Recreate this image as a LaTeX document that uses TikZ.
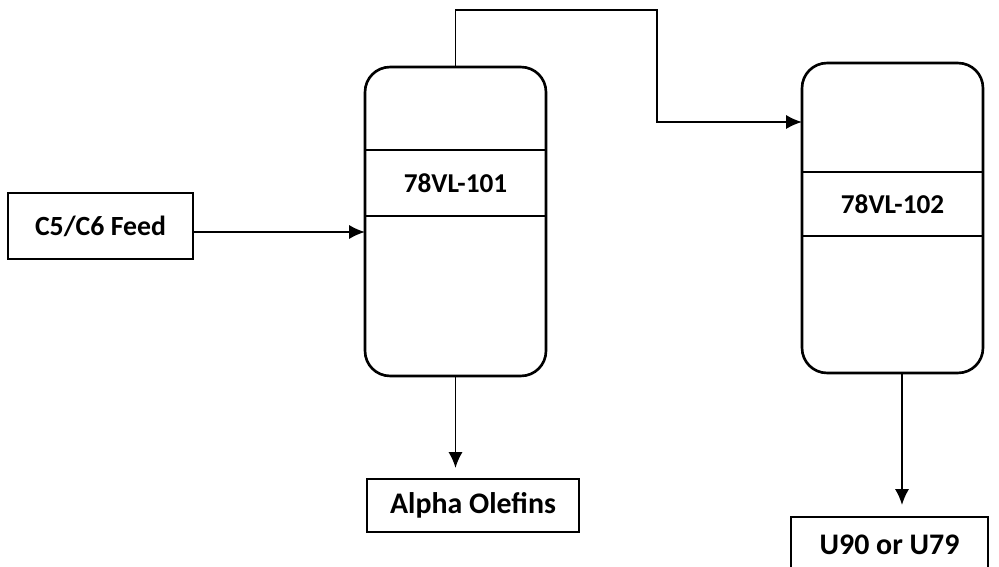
\documentclass[tikz,border=0pt]{standalone}
\usepackage{fontspec}
\setmainfont{Carlito}
\usetikzlibrary{arrows.meta}

\tikzset{
    vessel/.style={draw, line width=1.5pt, rounded corners=0.5cm, minimum width=3.62cm, inner sep=0pt, outer sep=0pt},
    band/.style={draw, line width=1.1pt, minimum width=3.62cm, inner sep=0pt, outer sep=0pt, font=\fontsize{15.5}{18}\selectfont\bfseries},
    box/.style={draw, line width=1.1pt, inner sep=0pt, outer sep=0pt, font=\fontsize{17}{20}\selectfont\bfseries},
    flow/.style={line width=1.1pt, -{Latex[length=9pt,width=8pt]}}
}

\begin{document}
\begin{tikzpicture}[x=0.02cm, y=-0.02cm]
    \clip (0,0) rectangle (999,567);
    % Feed
    \node[box, minimum width=3.7cm, minimum height=1.32cm, font=\fontsize{15.8}{18}\selectfont\bfseries] (feed) at (100.5,226) {C5/C6 Feed};

    % Vessels
    \node[vessel, minimum height=6.18cm] (v1) at (455.5,221.5) {};
    \node[band, minimum height=1.32cm] (b1) at (455.5,183) {78VL-101};
    \node[vessel, minimum height=6.2cm] (v2) at (892.5,218) {};
    \node[band, minimum height=1.28cm] (b2) at (892.5,204) {78VL-102};

    % Products
    \node[box, minimum width=4.24cm, minimum height=1.06cm] (olef) at (473,505.5) {Alpha Olefins};
    \node[box, minimum width=3.94cm, minimum height=1.1cm] (u90) at (889.5,544.5) {U90 or U79};

    % Lines
    \coordinate (bend) at (657,10);
    \coordinate (v2in) at (802,122);
    \draw[flow] ([yshift=-0.12cm]feed.east) -- ([yshift=-0.12cm]feed.east -| v1.west);
    \draw[flow] (v1.north) |- (bend) |- (v2in);
    \draw[flow, shorten >=0.22cm] (v1.south) -- (v1.south |- olef.north);
    \draw[flow, shorten >=0.24cm] ([xshift=0.19cm]v2.south) -- ([xshift=0.19cm]v2.south |- u90.north);
\end{tikzpicture}
\end{document}
